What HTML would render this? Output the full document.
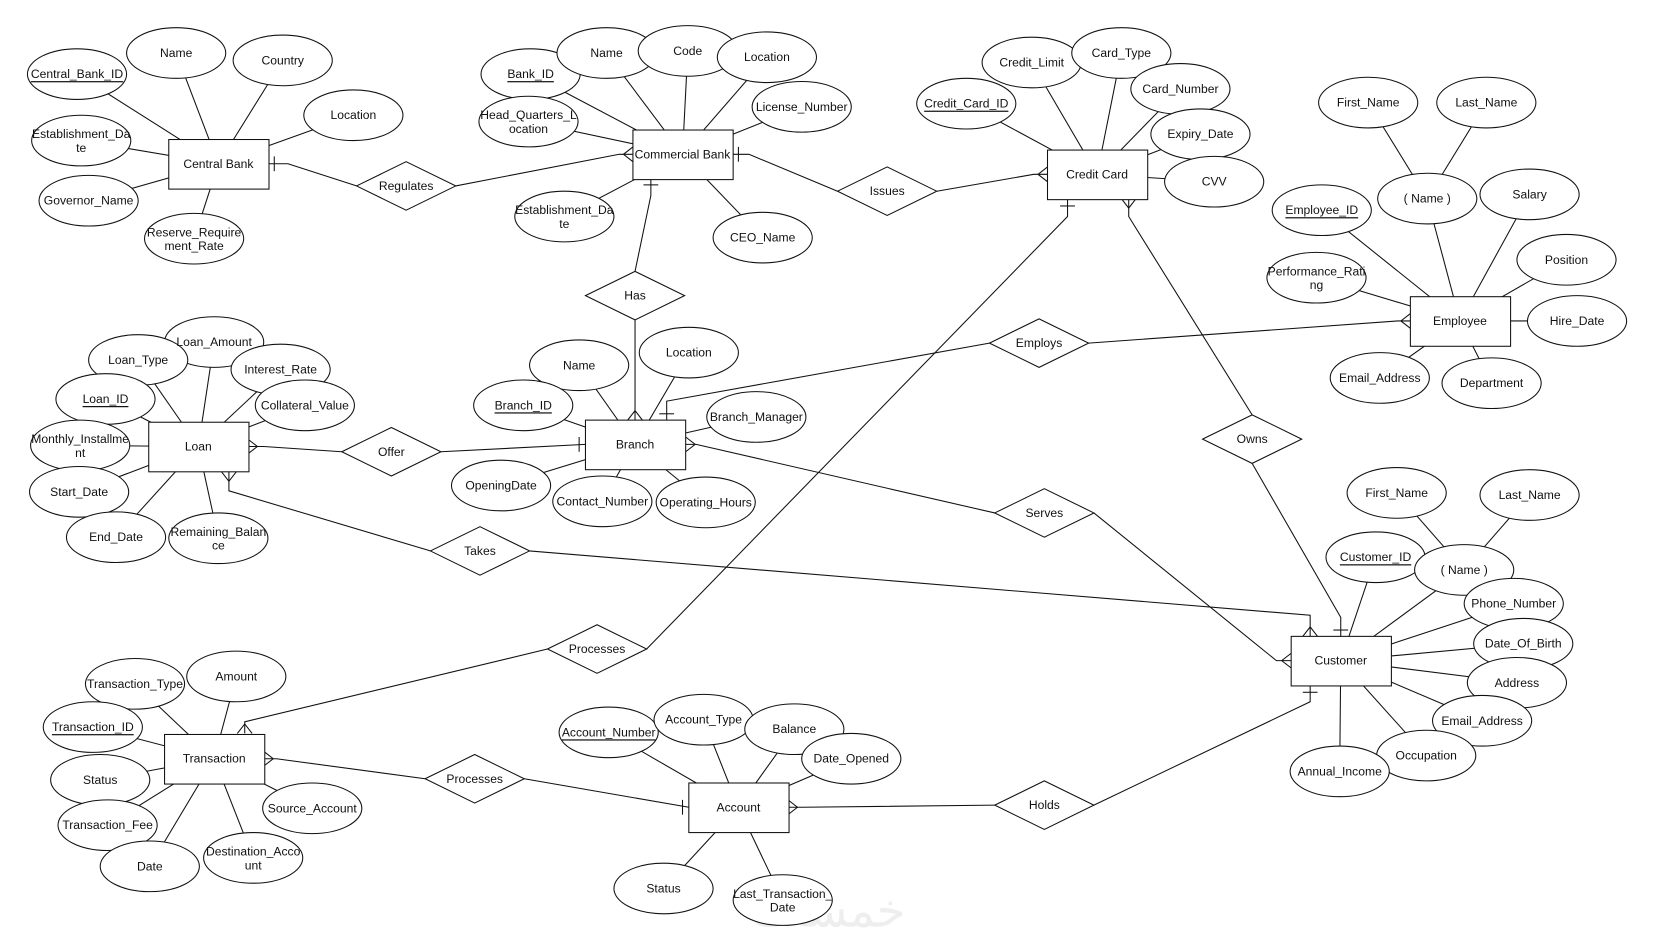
<!DOCTYPE html>
<html><head><meta charset="utf-8"><style>
html,body{margin:0;padding:0;background:#fff;}
svg{display:block;}
text{font-family:"Liberation Sans",Arial,sans-serif;font-size:11.5px;fill:#111;}
</style></head><body>
<svg width="1653" height="951" viewBox="0 0 1567 901" xmlns="http://www.w3.org/2000/svg">
<text x="785" y="878" style="font-size:44px;fill:#eee;font-family:'DejaVu Sans',sans-serif" text-anchor="middle">خمسات</text>
<g stroke="#111" stroke-width="1" fill="none">
<!-- attribute lines -->
<line x1="73" y1="70" x2="207" y2="155"/><line x1="167" y1="50" x2="207" y2="155"/><line x1="268" y1="57" x2="207" y2="155"/><line x1="335" y1="109" x2="207" y2="155"/><line x1="77" y1="133" x2="207" y2="155"/><line x1="84" y1="190" x2="207" y2="155"/><line x1="184" y1="226" x2="207" y2="155"/>
<line x1="503" y1="70" x2="647" y2="146"/><line x1="575" y1="50" x2="647" y2="146"/><line x1="652" y1="48" x2="647" y2="146"/><line x1="727" y1="54" x2="647" y2="146"/><line x1="760" y1="101" x2="647" y2="146"/><line x1="501" y1="115" x2="647" y2="146"/><line x1="535" y1="205" x2="647" y2="146"/><line x1="723" y1="225" x2="647" y2="146"/>
<line x1="916" y1="98" x2="1040" y2="165"/><line x1="978" y1="59" x2="1040" y2="165"/><line x1="1063" y1="50" x2="1040" y2="165"/><line x1="1119" y1="84" x2="1040" y2="165"/><line x1="1138" y1="127" x2="1040" y2="165"/><line x1="1151" y1="172" x2="1040" y2="165"/>
<line x1="1297" y1="97" x2="1353" y2="188"/><line x1="1409" y1="97" x2="1353" y2="188"/><line x1="1353" y1="188" x2="1384" y2="304"/><line x1="1450" y1="184" x2="1384" y2="304"/><line x1="1253" y1="199" x2="1384" y2="304"/><line x1="1485" y1="246" x2="1384" y2="304"/><line x1="1248" y1="263" x2="1384" y2="304"/><line x1="1495" y1="304" x2="1384" y2="304"/><line x1="1308" y1="358" x2="1384" y2="304"/><line x1="1414" y1="363" x2="1384" y2="304"/>
<line x1="203" y1="324" x2="188" y2="423"/><line x1="131" y1="341" x2="188" y2="423"/><line x1="266" y1="350" x2="188" y2="423"/><line x1="100" y1="378" x2="188" y2="423"/><line x1="289" y1="384" x2="188" y2="423"/><line x1="76" y1="422" x2="188" y2="423"/><line x1="75" y1="466" x2="188" y2="423"/><line x1="110" y1="509" x2="188" y2="423"/><line x1="207" y1="510" x2="188" y2="423"/>
<line x1="549" y1="346" x2="602" y2="421"/><line x1="653" y1="334" x2="602" y2="421"/><line x1="496" y1="384" x2="602" y2="421"/><line x1="717" y1="395" x2="602" y2="421"/><line x1="475" y1="460" x2="602" y2="421"/><line x1="571" y1="475" x2="602" y2="421"/><line x1="669" y1="476" x2="602" y2="421"/>
<line x1="1324" y1="467" x2="1388" y2="540"/><line x1="1450" y1="469" x2="1388" y2="540"/><line x1="1388" y1="540" x2="1271" y2="626"/><line x1="1304" y1="528" x2="1271" y2="626"/><line x1="1435" y1="572" x2="1271" y2="626"/><line x1="1444" y1="610" x2="1271" y2="626"/><line x1="1438" y1="647" x2="1271" y2="626"/><line x1="1405" y1="683" x2="1271" y2="626"/><line x1="1352" y1="716" x2="1271" y2="626"/><line x1="1270" y1="731" x2="1271" y2="626"/>
<line x1="128" y1="648" x2="203" y2="719"/><line x1="224" y1="641" x2="203" y2="719"/><line x1="88" y1="689" x2="203" y2="719"/><line x1="95" y1="739" x2="203" y2="719"/><line x1="296" y1="766" x2="203" y2="719"/><line x1="102" y1="782" x2="203" y2="719"/><line x1="142" y1="821" x2="203" y2="719"/><line x1="240" y1="813" x2="203" y2="719"/>
<line x1="577" y1="694" x2="700" y2="765"/><line x1="667" y1="682" x2="700" y2="765"/><line x1="753" y1="691" x2="700" y2="765"/><line x1="807" y1="719" x2="700" y2="765"/><line x1="629" y1="842" x2="700" y2="765"/><line x1="742" y1="853" x2="700" y2="765"/>
<!-- relationship lines -->
<polyline points="255,155 273,155 338,176"/><line x1="260" y1="148" x2="260" y2="162"/>
<polyline points="432,176 587,146 600,146"/><polyline points="600,139 591,146 600,153"/>
<polyline points="695,146 710,146 794,181"/><line x1="700" y1="139" x2="700" y2="153"/>
<polyline points="888,181 980,165 993,165"/><polyline points="993,158 984,165 993,172"/>
<polyline points="617,170 617,185 602,257"/><line x1="610" y1="175" x2="624" y2="175"/>
<line x1="602" y1="303" x2="602" y2="398"/><polyline points="595,398 602,389 609,398"/>
<polyline points="632,398 632,380 938,325"/><line x1="625" y1="392" x2="639" y2="392"/>
<polyline points="1032,325 1325,304 1337,304"/><polyline points="1337,297 1328,304 1337,311"/>
<polyline points="235,423 250,423 324,428"/><polyline points="235,416 244,423 235,430"/>
<polyline points="418,428 555,421"/><line x1="549" y1="414" x2="549" y2="428"/>
<polyline points="650,421 660,421 943,486"/><polyline points="650,414 659,421 650,428"/>
<polyline points="1037,486 1210,626 1224,626"/><polyline points="1224,619 1215,626 1224,633"/>
<polyline points="217,447 217,465 408,522"/><polyline points="210,447 217,456 224,447"/>
<polyline points="502,522 1242,583 1242,603"/><polyline points="1235,603 1242,594 1249,603"/>
<polyline points="1012,188 1012,205 613,615"/><line x1="1005" y1="195" x2="1019" y2="195"/>
<polyline points="519,615 232,684 232,695"/><polyline points="225,695 232,686 239,695"/>
<polyline points="1070,188 1070,205 1187,393"/><polyline points="1063,188 1070,197 1077,188"/>
<polyline points="1187,439 1271,585 1271,603"/><line x1="1264" y1="597" x2="1278" y2="597"/>
<polyline points="250,719 262,719 403,738"/><polyline points="250,712 259,719 250,726"/>
<polyline points="497,738 653,765"/><line x1="647" y1="758" x2="647" y2="772"/>
<polyline points="747,765 760,765 943,763"/><polyline points="747,758 756,765 747,772"/>
<polyline points="1037,763 1242,665 1242,650"/><line x1="1235" y1="656" x2="1249" y2="656"/>
</g>
<!-- ellipses -->
<g stroke="#111" stroke-width="1" fill="#fff">
<ellipse cx="73" cy="70" rx="47" ry="24"/><ellipse cx="167" cy="50" rx="47" ry="24"/><ellipse cx="268" cy="57" rx="47" ry="24"/><ellipse cx="335" cy="109" rx="47" ry="24"/><ellipse cx="77" cy="133" rx="47" ry="24"/><ellipse cx="84" cy="190" rx="47" ry="24"/><ellipse cx="184" cy="226" rx="47" ry="24"/>
<ellipse cx="503" cy="70" rx="47" ry="24"/><ellipse cx="575" cy="50" rx="47" ry="24"/><ellipse cx="652" cy="48" rx="47" ry="24"/><ellipse cx="727" cy="54" rx="47" ry="24"/><ellipse cx="760" cy="101" rx="47" ry="24"/><ellipse cx="501" cy="115" rx="47" ry="24"/><ellipse cx="535" cy="205" rx="47" ry="24"/><ellipse cx="723" cy="225" rx="47" ry="24"/>
<ellipse cx="916" cy="98" rx="47" ry="24"/><ellipse cx="978" cy="59" rx="47" ry="24"/><ellipse cx="1063" cy="50" rx="47" ry="24"/><ellipse cx="1119" cy="84" rx="47" ry="24"/><ellipse cx="1138" cy="127" rx="47" ry="24"/><ellipse cx="1151" cy="172" rx="47" ry="24"/>
<ellipse cx="1297" cy="97" rx="47" ry="24"/><ellipse cx="1409" cy="97" rx="47" ry="24"/><ellipse cx="1353" cy="188" rx="47" ry="24"/><ellipse cx="1450" cy="184" rx="47" ry="24"/><ellipse cx="1253" cy="199" rx="47" ry="24"/><ellipse cx="1485" cy="246" rx="47" ry="24"/><ellipse cx="1248" cy="263" rx="47" ry="24"/><ellipse cx="1495" cy="304" rx="47" ry="24"/><ellipse cx="1308" cy="358" rx="47" ry="24"/><ellipse cx="1414" cy="363" rx="47" ry="24"/>
<ellipse cx="203" cy="324" rx="47" ry="24"/><ellipse cx="131" cy="341" rx="47" ry="24"/><ellipse cx="266" cy="350" rx="47" ry="24"/><ellipse cx="100" cy="378" rx="47" ry="24"/><ellipse cx="289" cy="384" rx="47" ry="24"/><ellipse cx="76" cy="422" rx="47" ry="24"/><ellipse cx="75" cy="466" rx="47" ry="24"/><ellipse cx="110" cy="509" rx="47" ry="24"/><ellipse cx="207" cy="510" rx="47" ry="24"/>
<ellipse cx="549" cy="346" rx="47" ry="24"/><ellipse cx="653" cy="334" rx="47" ry="24"/><ellipse cx="496" cy="384" rx="47" ry="24"/><ellipse cx="717" cy="395" rx="47" ry="24"/><ellipse cx="475" cy="460" rx="47" ry="24"/><ellipse cx="571" cy="475" rx="47" ry="24"/><ellipse cx="669" cy="476" rx="47" ry="24"/>
<ellipse cx="1324" cy="467" rx="47" ry="24"/><ellipse cx="1450" cy="469" rx="47" ry="24"/><ellipse cx="1304" cy="528" rx="47" ry="24"/><ellipse cx="1388" cy="540" rx="47" ry="24"/><ellipse cx="1435" cy="572" rx="47" ry="24"/><ellipse cx="1444" cy="610" rx="47" ry="24"/><ellipse cx="1438" cy="647" rx="47" ry="24"/><ellipse cx="1405" cy="683" rx="47" ry="24"/><ellipse cx="1352" cy="716" rx="47" ry="24"/><ellipse cx="1270" cy="731" rx="47" ry="24"/>
<ellipse cx="128" cy="648" rx="47" ry="24"/><ellipse cx="224" cy="641" rx="47" ry="24"/><ellipse cx="88" cy="689" rx="47" ry="24"/><ellipse cx="95" cy="739" rx="47" ry="24"/><ellipse cx="296" cy="766" rx="47" ry="24"/><ellipse cx="102" cy="782" rx="47" ry="24"/><ellipse cx="142" cy="821" rx="47" ry="24"/><ellipse cx="240" cy="813" rx="47" ry="24"/>
<ellipse cx="577" cy="694" rx="47" ry="24"/><ellipse cx="667" cy="682" rx="47" ry="24"/><ellipse cx="753" cy="691" rx="47" ry="24"/><ellipse cx="807" cy="719" rx="47" ry="24"/><ellipse cx="629" cy="842" rx="47" ry="24"/><ellipse cx="742" cy="853" rx="47" ry="24"/>
<!-- entities -->
<rect x="160" y="132" width="95" height="47"/><rect x="600" y="123" width="95" height="47"/><rect x="993" y="142" width="95" height="47"/><rect x="1337" y="281" width="95" height="47"/><rect x="141" y="400" width="95" height="47"/><rect x="555" y="398" width="95" height="47"/><rect x="1224" y="603" width="95" height="47"/><rect x="156" y="696" width="95" height="47"/><rect x="653" y="742" width="95" height="47"/>
<!-- diamonds -->
<polygon points="338,176 385,153 432,176 385,199"/><polygon points="794,181 841,158 888,181 841,204"/><polygon points="555,280 602,257 649,280 602,303"/><polygon points="938,325 985,302 1032,325 985,348"/><polygon points="324,428 371,405 418,428 371,451"/><polygon points="1140,416 1187,393 1234,416 1187,439"/><polygon points="943,486 990,463 1037,486 990,509"/><polygon points="408,522 455,499 502,522 455,545"/><polygon points="519,615 566,592 613,615 566,638"/><polygon points="403,738 450,715 497,738 450,761"/><polygon points="943,763 990,740 1037,763 990,786"/>
</g>
<g text-anchor="middle" dominant-baseline="central">
<text x="73" y="70" text-decoration="underline">Central_Bank_ID</text><text x="167" y="50">Name</text><text x="268" y="57">Country</text><text x="335" y="109">Location</text><text x="77" y="127">Establishment_Da</text><text x="77" y="140">te</text><text x="84" y="190">Governor_Name</text><text x="184" y="220">Reserve_Require</text><text x="184" y="233">ment_Rate</text>
<text x="503" y="70" text-decoration="underline">Bank_ID</text><text x="575" y="50">Name</text><text x="652" y="48">Code</text><text x="727" y="54">Location</text><text x="760" y="101">License_Number</text><text x="501" y="109">Head_Quarters_L</text><text x="501" y="122">ocation</text><text x="535" y="199">Establishment_Da</text><text x="535" y="212">te</text><text x="723" y="225">CEO_Name</text>
<text x="916" y="98" text-decoration="underline">Credit_Card_ID</text><text x="978" y="59">Credit_Limit</text><text x="1063" y="50">Card_Type</text><text x="1119" y="84">Card_Number</text><text x="1138" y="127">Expiry_Date</text><text x="1151" y="172">CVV</text>
<text x="1297" y="97">First_Name</text><text x="1409" y="97">Last_Name</text><text x="1353" y="188">( Name )</text><text x="1450" y="184">Salary</text><text x="1253" y="199" text-decoration="underline">Employee_ID</text><text x="1485" y="246">Position</text><text x="1248" y="257">Performance_Rati</text><text x="1248" y="270">ng</text><text x="1495" y="304">Hire_Date</text><text x="1308" y="358">Email_Address</text><text x="1414" y="363">Department</text>
<text x="203" y="324">Loan_Amount</text><text x="131" y="341">Loan_Type</text><text x="266" y="350">Interest_Rate</text><text x="100" y="378" text-decoration="underline">Loan_ID</text><text x="289" y="384">Collateral_Value</text><text x="76" y="416">Monthly_Installme</text><text x="76" y="429">nt</text><text x="75" y="466">Start_Date</text><text x="110" y="509">End_Date</text><text x="207" y="504">Remaining_Balan</text><text x="207" y="517">ce</text>
<text x="549" y="346">Name</text><text x="653" y="334">Location</text><text x="496" y="384" text-decoration="underline">Branch_ID</text><text x="717" y="395">Branch_Manager</text><text x="475" y="460">OpeningDate</text><text x="571" y="475">Contact_Number</text><text x="669" y="476">Operating_Hours</text>
<text x="1324" y="467">First_Name</text><text x="1450" y="469">Last_Name</text><text x="1304" y="528" text-decoration="underline">Customer_ID</text><text x="1388" y="540">( Name )</text><text x="1435" y="572">Phone_Number</text><text x="1444" y="610">Date_Of_Birth</text><text x="1438" y="647">Address</text><text x="1405" y="683">Email_Address</text><text x="1352" y="716">Occupation</text><text x="1270" y="731">Annual_Income</text>
<text x="128" y="648">Transaction_Type</text><text x="224" y="641">Amount</text><text x="88" y="689" text-decoration="underline">Transaction_ID</text><text x="95" y="739">Status</text><text x="296" y="766">Source_Account</text><text x="102" y="782">Transaction_Fee</text><text x="142" y="821">Date</text><text x="240" y="807">Destination_Acco</text><text x="240" y="820">unt</text>
<text x="577" y="694" text-decoration="underline">Account_Number</text><text x="667" y="682">Account_Type</text><text x="753" y="691">Balance</text><text x="807" y="719">Date_Opened</text><text x="629" y="842">Status</text><text x="742" y="847">Last_Transaction_</text><text x="742" y="860">Date</text>
<text x="207" y="155">Central Bank</text><text x="647" y="146">Commercial Bank</text><text x="1040" y="165">Credit Card</text><text x="1384" y="304">Employee</text><text x="188" y="423">Loan</text><text x="602" y="421">Branch</text><text x="1271" y="626">Customer</text><text x="203" y="719">Transaction</text><text x="700" y="765">Account</text>
<text x="385" y="176">Regulates</text><text x="841" y="181">Issues</text><text x="602" y="280">Has</text><text x="985" y="325">Employs</text><text x="371" y="428">Offer</text><text x="1187" y="416">Owns</text><text x="990" y="486">Serves</text><text x="455" y="522">Takes</text><text x="566" y="615">Processes</text><text x="450" y="738">Processes</text><text x="990" y="763">Holds</text>
</g>
</svg>
</body></html>
